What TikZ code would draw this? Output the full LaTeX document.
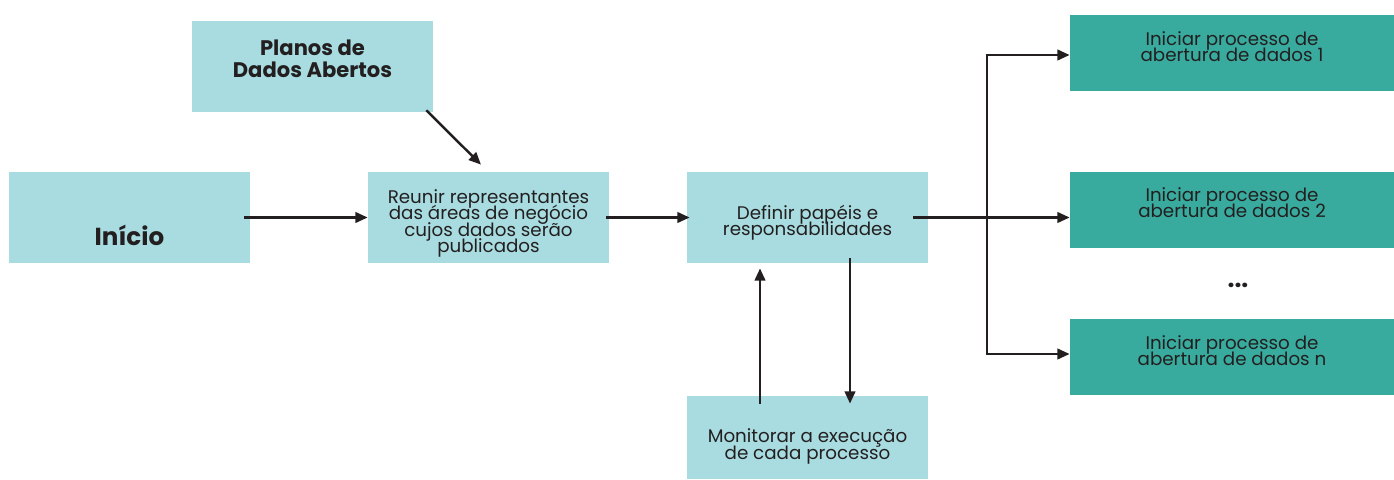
\documentclass[tikz,border=0pt]{standalone}
\usepackage{fontspec}
\setmainfont{Poppins}
\usepackage{tikz}
\usetikzlibrary{positioning,arrows.meta}
\definecolor{lightbox}{RGB}{168,220,224}
\definecolor{darkbox}{RGB}{56,171,158}
\definecolor{ink}{RGB}{35,31,32}
\newcommand\tightlines{\lineskiplimit=-10pt\relax}

\begin{document}
\begin{tikzpicture}[every node/.style={rectangle,align=center,text=ink,font=\fontsize{10.4}{9.4}\selectfont\tightlines},
	lightstep/.style={fill=lightbox,minimum width=4.82cm,minimum height=1.82cm},
	openstep/.style={fill=darkbox,minimum width=6.48cm,minimum height=1.52cm},
	flow/.style={draw=ink,line width=1.4pt,-{Triangle[length=7pt,width=6pt]}}]
			\useasboundingbox (0,0) rectangle (27.88,9.58);

			%left nodes
			\node [lightstep,font=\fontsize{12}{12.5}\selectfont\bfseries\tightlines,text depth=0.3cm] (plan) at (6.25,8.25) {Planos de\\Dados Abertos};
			\node [lightstep,font=\fontsize{14}{14}\selectfont\bfseries,text height=1.14cm,text depth=0pt] (start) at (2.59,5.23) {Início};
			\node [lightstep,text height=1.42cm,text depth=0pt] (meet) at (9.77,5.23) {Reunir representantes\\das áreas de negócio\\cujos dados serão\\publicados};
			\node [lightstep,text height=0.74cm,text depth=0pt] (roles) at (16.15,5.23) {Definir papéis e\\responsabilidades};
			\node [lightstep,minimum height=1.66cm,text height=0.86cm,text depth=0pt] (watch) at (16.15,0.83) {Monitorar a execução\\de cada processo};

			%right nodes
			\node [openstep,text depth=0.25cm] (open1) at (24.64,8.52) {Iniciar processo de\\abertura de dados 1};
			\node [openstep,text depth=0.3cm] (open2) at (24.64,5.38) {Iniciar processo de\\abertura de dados 2};
			\node [font=\fontsize{14}{14}\selectfont\bfseries] (more) at (24.76,3.88) {...};
			\node [openstep,text depth=0.26cm] (openn) at (24.64,2.44) {Iniciar processo de\\abertura de dados n};

			\coordinate (split) at (19.74,5.23);

			%edges
			\draw [flow] ([xshift=-0.12cm]start.east) -- (meet.west);
			\draw [flow] ([xshift=-0.14cm,yshift=0.04cm]plan.south east) -- ([xshift=-0.15cm,yshift=0.14cm]meet.north);
			\draw [flow] ([xshift=-0.06cm]meet.east) -- ([xshift=0.06cm]roles.west);
			\draw [flow] ([xshift=-0.3cm]roles.east) -- (roles.east -| open2.west);
			\draw [flow] (split) |- ([yshift=-0.04cm]open1.west);
			\draw [flow] (split) |- ([yshift=0.06cm]openn.west);
			\draw [flow] ([xshift=0.85cm,yshift=0.1cm]roles.south) -- ([xshift=0.85cm,yshift=-0.16cm]watch.north);
			\draw [flow] ([xshift=-0.95cm,yshift=-0.16cm]watch.north) -- ([xshift=-0.95cm,yshift=-0.1cm]roles.south);
		\end{tikzpicture}
\end{document}
